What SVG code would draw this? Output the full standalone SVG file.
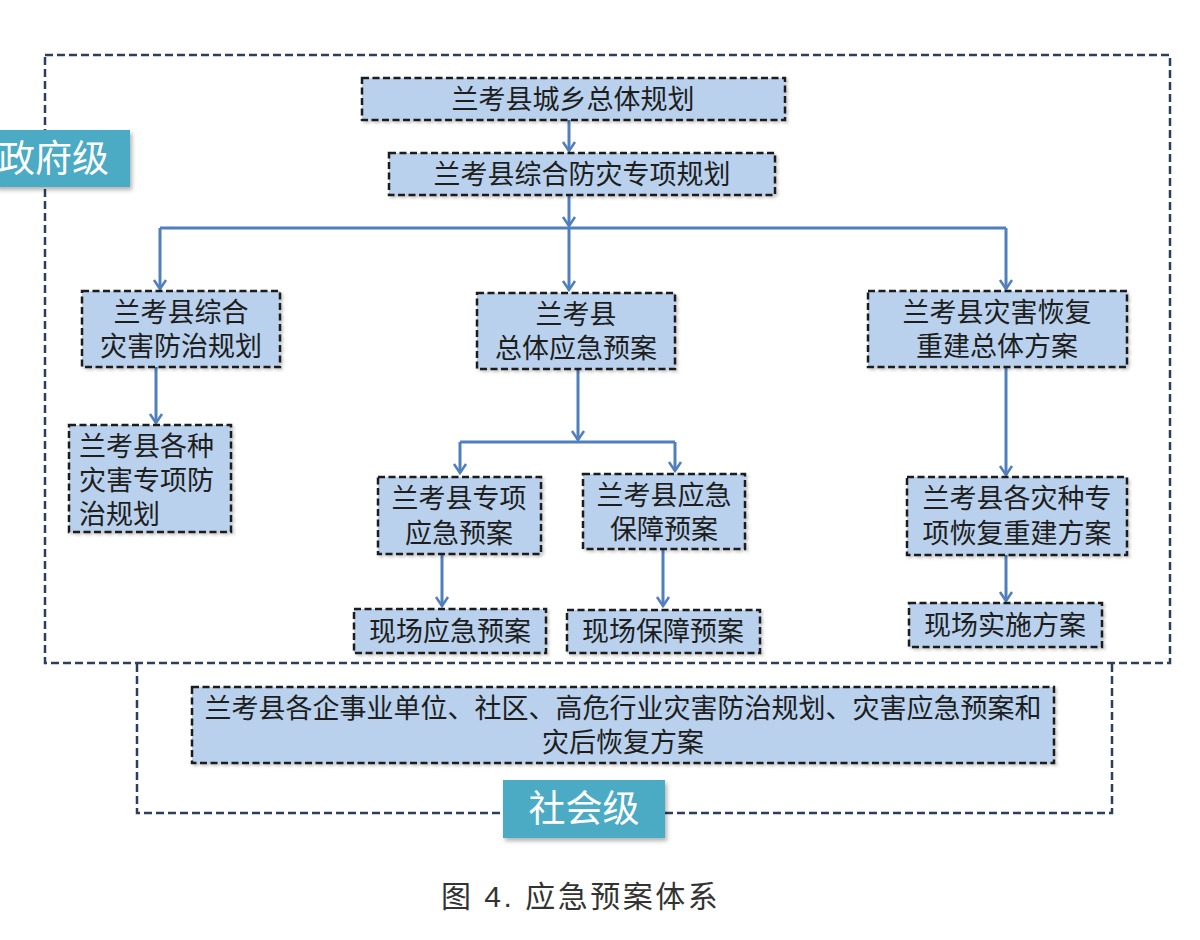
<svg xmlns="http://www.w3.org/2000/svg" width="1200" height="940" viewBox="0 0 1200 940">
<style>
.frame{fill:none;stroke:#2d3e5c;stroke-width:2.5;stroke-dasharray:8 4}
.box{fill:#b9d1ec;stroke:#1c1c1c;stroke-width:2.5;stroke-dasharray:7 3.5;filter:url(#sh)}
.t{font-family:"Liberation Sans","Noto Sans CJK SC",sans-serif;font-size:27px;fill:#1e1e1e;text-anchor:middle}
.tl{text-anchor:start}
.lab{fill:#4babc5;filter:url(#sh2)}
.lt{font-family:"Liberation Sans","Noto Sans CJK SC",sans-serif;font-size:37px;fill:#ffffff}
.c{fill:none;stroke:#4f7fbd;stroke-width:3}
.cap{font-family:"Liberation Sans","Noto Sans CJK SC",sans-serif;font-size:30px;fill:#333333;letter-spacing:2.5px}
</style>
<defs>
<filter id="sh" x="-5%" y="-10%" width="115%" height="130%">
<feDropShadow dx="2" dy="2" stdDeviation="1.5" flood-color="#000" flood-opacity="0.2"/>
</filter>
<filter id="sh2" x="-10%" y="-10%" width="125%" height="140%">
<feDropShadow dx="2" dy="3" stdDeviation="2" flood-color="#000" flood-opacity="0.3"/>
</filter>
<marker id="ar" viewBox="-1 -8 12 16" markerWidth="12" markerHeight="16" refX="9" refY="0" orient="auto" markerUnits="userSpaceOnUse">
<path d="M0,-6 L9,0 L0,6" fill="none" stroke="#4f7fbd" stroke-width="2.5"/>
</marker>
</defs>
<rect width="1200" height="940" fill="#ffffff"/>

<g id="frames">
<rect class="frame" x="45" y="55" width="1125" height="608"/>
<path class="frame" d="M137,664 V813 H503 M665,813 H1112 V664"/>
</g>

<g id="gov-label">
<rect class="lab" x="-5" y="130" width="135" height="57"/>
<text class="lt" x="-2" y="172">政府级</text>
</g>
<g id="soc-label">
<rect class="lab" x="503" y="780" width="162" height="58"/>
<text class="lt" x="584" y="822" text-anchor="middle">社会级</text>
</g>

<g id="connectors">
<path class="c" d="M569,120 V151" marker-end="url(#ar)"/>
<path class="c" d="M569,195 V226" marker-end="url(#ar)"/>
<path class="c" d="M160,228 H1006"/>
<path class="c" d="M160,228 V289" marker-end="url(#ar)"/>
<path class="c" d="M569,228 V290" marker-end="url(#ar)"/>
<path class="c" d="M1006,228 V289" marker-end="url(#ar)"/>
<path class="c" d="M156,367 V423" marker-end="url(#ar)"/>
<path class="c" d="M578,369 V440" marker-end="url(#ar)"/>
<path class="c" d="M460,442 H675"/>
<path class="c" d="M460,442 V473" marker-end="url(#ar)"/>
<path class="c" d="M675,442 V471" marker-end="url(#ar)"/>
<path class="c" d="M442,554 V606" marker-end="url(#ar)"/>
<path class="c" d="M663,549 V606" marker-end="url(#ar)"/>
<path class="c" d="M1006,367 V475" marker-end="url(#ar)"/>
<path class="c" d="M1006,555 V601" marker-end="url(#ar)"/>
</g>

<g id="n1"><rect class="box" x="362" y="78" width="423" height="42"/><text class="t" x="573" y="109">兰考县城乡总体规划</text></g>
<g id="n2"><rect class="box" x="389" y="153" width="386" height="42"/><text class="t" x="582" y="184">兰考县综合防灾专项规划</text></g>
<g id="n3"><rect class="box" x="82" y="291" width="198" height="76"/><text class="t" x="181" y="322">兰考县综合</text><text class="t" x="181" y="356">灾害防治规划</text></g>
<g id="n4"><rect class="box" x="477" y="293" width="198" height="76"/><text class="t" x="576" y="324">兰考县</text><text class="t" x="576" y="358">总体应急预案</text></g>
<g id="n5"><rect class="box" x="868" y="291" width="259" height="76"/><text class="t" x="997" y="322">兰考县灾害恢复</text><text class="t" x="997" y="356">重建总体方案</text></g>
<g id="n6"><rect class="box" x="69" y="425" width="162" height="107"/><text class="t tl" x="79" y="456">兰考县各种</text><text class="t tl" x="79" y="490">灾害专项防</text><text class="t tl" x="79" y="524">治规划</text></g>
<g id="n7"><rect class="box" x="378" y="477" width="163" height="77"/><text class="t" x="459" y="508">兰考县专项</text><text class="t" x="459" y="543">应急预案</text></g>
<g id="n8"><rect class="box" x="583" y="474" width="162" height="75"/><text class="t" x="664" y="505">兰考县应急</text><text class="t" x="664" y="539">保障预案</text></g>
<g id="n9"><rect class="box" x="354" y="609" width="192" height="44"/><text class="t" x="450" y="641">现场应急预案</text></g>
<g id="n10"><rect class="box" x="567" y="610" width="193" height="43"/><text class="t" x="663" y="641">现场保障预案</text></g>
<g id="n11"><rect class="box" x="907" y="477" width="220" height="78"/><text class="t" x="1017" y="508">兰考县各灾种专</text><text class="t" x="1017" y="543">项恢复重建方案</text></g>
<g id="n12"><rect class="box" x="909" y="603" width="193" height="44"/><text class="t" x="1005" y="635">现场实施方案</text></g>
<g id="n13"><rect class="box" x="192" y="687" width="862" height="76"/><text class="t" x="623" y="718">兰考县各企事业单位、社区、高危行业灾害防治规划、灾害应急预案和</text><text class="t" x="623" y="752">灾后恢复方案</text></g>

<text class="cap" x="441" y="907">图 4. 应急预案体系</text>
</svg>
